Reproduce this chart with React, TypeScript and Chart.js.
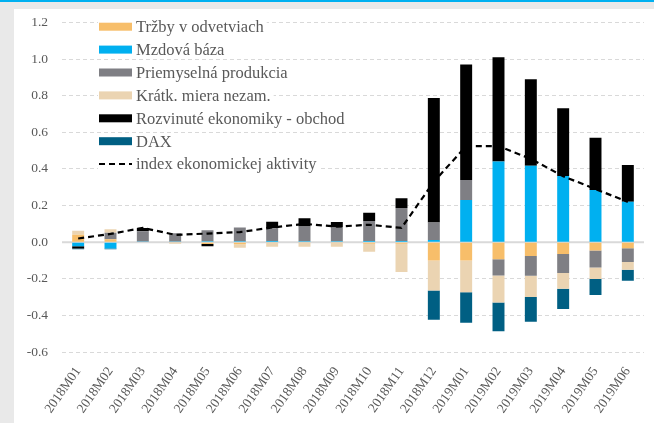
import React, { useEffect, useRef } from 'react';
import { Chart, registerables } from 'chart.js';
Chart.register(...registerables);

const categories = [
  '2018M01', '2018M02', '2018M03', '2018M04', '2018M05', '2018M06',
  '2018M07', '2018M08', '2018M09', '2018M10', '2018M11', '2018M12',
  '2019M01', '2019M02', '2019M03', '2019M04', '2019M05', '2019M06',
];

const trzby = [0.04, 0.016, 0, -0.005, -0.01, -0.012, -0.005, -0.005, -0.005, -0.008, -0.008, -0.1, -0.1, -0.093, -0.076, -0.064, -0.045, -0.033];
const mzdova = [-0.022, -0.035, 0.004, 0.004, 0.005, 0.005, 0.006, 0.005, 0.005, 0.006, 0.006, 0.012, 0.23, 0.44, 0.417, 0.361, 0.285, 0.221];
const priemysel = [0, 0.035, 0.055, 0.045, 0.06, 0.075, 0.07, 0.08, 0.075, 0.11, 0.18, 0.095, 0.11, -0.089, -0.107, -0.105, -0.094, -0.076];
const kratk = [0.023, 0.02, 0, -0.004, 0, -0.018, -0.02, -0.02, -0.02, -0.045, -0.155, -0.164, -0.173, -0.147, -0.116, -0.085, -0.062, -0.042];
const rozvinute = [-0.012, 0, 0.018, 0, -0.012, 0, 0.036, 0.045, 0.03, 0.045, 0.054, 0.68, 0.63, 0.57, 0.473, 0.37, 0.285, 0.2];
const dax = [-0.005, -0.004, 0, 0, 0, 0, 0, 0, 0, 0, 0, -0.16, -0.167, -0.158, -0.136, -0.111, -0.087, -0.06];
const indexAktivity = [0.02, 0.045, 0.078, 0.04, 0.047, 0.055, 0.08, 0.1, 0.085, 0.095, 0.078, 0.33, 0.525, 0.525, 0.455, 0.36, 0.29, 0.22];

const barSeries = [
  { label: 'Tržby v odvetviach', data: trzby, color: '#F7BE6A' },
  { label: 'Mzdová báza', data: mzdova, color: '#00B0F0' },
  { label: 'Priemyselná produkcia', data: priemysel, color: '#7F7F84' },
  { label: 'Krátk. miera nezam.', data: kratk, color: '#EBD4B2' },
  { label: 'Rozvinuté ekonomiky - obchod', data: rozvinute, color: '#000000' },
  { label: 'DAX', data: dax, color: '#005F83' },
];
const lineLabel = 'index ekonomickej aktivity';

const FONT = "'Liberation Serif', 'DejaVu Serif', serif";
const TEXT = '#595959';

export default function App() {
  const ref = useRef<HTMLCanvasElement>(null);

  useEffect(() => {
    if (!ref.current) return;

    const zeroLine = {
      id: 'zeroLine',
      beforeDatasetsDraw(chart: any) {
        const { ctx, chartArea } = chart;
        const y = chart.scales.y.getPixelForValue(0);
        ctx.save();
        ctx.strokeStyle = '#D9D9D9';
        ctx.lineWidth = 2;
        ctx.beginPath();
        ctx.moveTo(chartArea.left, y);
        ctx.lineTo(chartArea.right, y);
        ctx.stroke();
        ctx.restore();
      },
    };

    const customLegend = {
      id: 'customLegend',
      afterDraw(chart: any) {
        const { ctx } = chart;
        const x0 = 85;
        const boxW = 33;
        const boxH = 8;
        const y0 = 17.7;
        const step = 22.9;
        ctx.save();
        ctx.font = `16.5px ${FONT}`;
        ctx.textBaseline = 'middle';
        chart.data.datasets.forEach((ds: any, i: number) => {
          const cy = y0 + i * step;
          const tw = ctx.measureText(ds.label).width;
          ctx.fillStyle = '#FFFFFF';
          ctx.fillRect(x0 - 1, cy - 8, boxW + 6 + tw + 2, 16);
          if (ds.type === 'line') {
            ctx.strokeStyle = '#000';
            ctx.lineWidth = 2;
            ctx.setLineDash([6, 4]);
            ctx.beginPath();
            ctx.moveTo(x0, cy);
            ctx.lineTo(x0 + boxW, cy);
            ctx.stroke();
            ctx.setLineDash([]);
          } else {
            ctx.fillStyle = ds.backgroundColor;
            ctx.fillRect(x0, cy - boxH / 2, boxW, boxH);
          }
          ctx.fillStyle = TEXT;
          ctx.fillText(ds.label, x0 + boxW + 4, cy + 1);
        });
        ctx.restore();
      },
    };

    const datasets: any[] = barSeries.map((s) => ({
      type: 'bar',
      label: s.label,
      data: s.data,
      backgroundColor: s.color,
      borderWidth: 0,
      stack: 'bars',
      order: 1,
      barPercentage: 0.37,
      categoryPercentage: 1,
    }));
    datasets.push({
      type: 'line',
      label: lineLabel,
      data: indexAktivity,
      borderColor: '#000000',
      backgroundColor: '#000000',
      borderWidth: 2.2,
      borderDash: [6, 4],
      pointRadius: 0,
      tension: 0,
      fill: false,
      stack: 'line',
      order: 0,
    });

    const chart = new Chart(ref.current, {
      type: 'bar',
      data: { labels: categories, datasets },
      options: {
        responsive: false,
        animation: false,
        layout: { padding: { top: 13.5, right: 10, left: 0, bottom: 0 } },
        plugins: { legend: { display: false }, tooltip: { enabled: false } },
        scales: {
          x: {
            stacked: true,
            grid: { display: false },
            border: { display: false },
            ticks: {
              autoSkip: false,
              maxRotation: 55,
              minRotation: 55,
              color: TEXT,
              font: { family: FONT, size: 13.5 },
              padding: 4,
            },
            afterFit: (s: any) => { s.height = 71; },
          },
          y: {
            stacked: true,
            min: -0.6,
            max: 1.2,
            grid: { color: '#D9D9D9', lineWidth: 1, drawTicks: true, tickLength: 11, tickColor: 'rgba(0,0,0,0)' },
            border: { display: false, dash: [4, 3] },
            ticks: {
              stepSize: 0.2,
              color: TEXT,
              padding: 3,
              font: { family: FONT, size: 13.5 },
              callback: (v: any) => (Math.abs(Number(v)) < 1e-9 ? '0.0' : Number(v).toFixed(1)),
            },
            afterFit: (s: any) => { s.width = 48; },
          },
        },
      },
      plugins: [zeroLine, customLegend],
    } as any);

    return () => chart.destroy();
  }, []);

  return (
    <div
      style={{
        position: 'fixed',
        left: 0,
        top: 0,
        width: 654,
        height: 423,
        background: '#E9E9E9',
        borderTop: '2px solid #00B0F0',
        boxSizing: 'border-box',
        overflow: 'hidden',
      }}
    >
      <div style={{ position: 'absolute', left: 14, top: 7, width: 640, height: 414, background: '#FFFFFF' }}>
        <canvas ref={ref} width={640} height={414} style={{ display: 'block' }} />
      </div>
    </div>
  );
}
